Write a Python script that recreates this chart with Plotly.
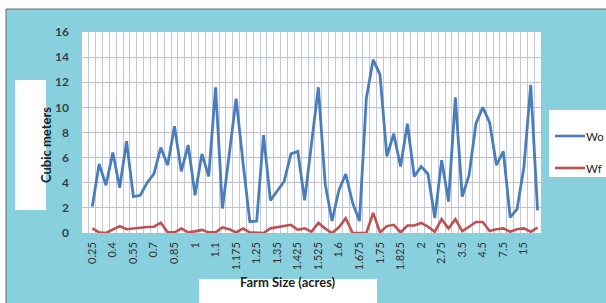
import plotly.graph_objects as go

# ---------------- data ----------------
farm_size_labels = ["0.25", "0.4", "0.55", "0.7", "0.85", "1", "1.1", "1.175",
                    "1.25", "1.35", "1.425", "1.525", "1.6", "1.675", "1.75",
                    "1.825", "2", "2.75", "3.5", "4.5", "7.5", "15"]

wo_values = [2.1, 5.5, 3.8, 6.4, 3.6, 7.3, 2.9, 3.0, 4.0, 4.7,
             6.8, 5.4, 8.5, 4.9, 7.0, 3.0, 6.3, 4.5, 11.6, 1.95,
             6.3, 10.7, 5.6, 0.9, 0.95, 7.8, 2.6, 3.4, 4.1, 6.3,
             6.5, 2.6, 7.0, 11.6, 3.9, 0.95, 3.4, 4.7, 2.4, 0.95,
             10.7, 13.8, 12.6, 6.1, 7.9, 5.3, 8.7, 4.5, 5.3, 4.7,
             1.2, 5.8, 2.5, 10.8, 2.9, 4.6, 8.7, 10.0, 8.8, 5.4,
             6.5, 1.25, 1.9, 5.2, 11.8, 1.8]

wf_values = [0.37, 0.05, 0.0, 0.25, 0.55, 0.3, 0.37, 0.42, 0.48, 0.5,
             0.82, 0.05, 0.05, 0.35, 0.05, 0.13, 0.25, 0.05, 0.05, 0.45,
             0.3, 0.05, 0.35, 0.05, 0.0, 0.0, 0.37, 0.45, 0.55, 0.65,
             0.25, 0.37, 0.1, 0.8, 0.35, 0.0, 0.45, 1.17, 0.0, 0.0,
             0.0, 1.6, 0.05, 0.55, 0.65, 0.05, 0.6, 0.6, 0.8, 0.5,
             0.1, 1.1, 0.35, 1.1, 0.15, 0.5, 0.88, 0.88, 0.15, 0.3,
             0.37, 0.1, 0.3, 0.37, 0.1, 0.42]

series_names = ["Wo", "Wf"]
series_colors = ["#4a7ebb", "#c0504d"]
y_ticks = [0, 2, 4, 6, 8, 10, 12, 14, 16]
label_step = 3

# ---------------- figure ----------------
W, H = 606, 303
ML, MR, MT, MB = 82, 65, 32, 70
PW, PH = W - ML - MR, H - MT - MB


def px_x(px):
    return (px - ML) / PW


def px_y(py):
    return (H - MB - py) / PH


x_idx = list(range(len(wo_values)))
tickvals = x_idx[::label_step]

fig = go.Figure()
for name, vals, col, lw in zip(series_names, [wo_values, wf_values], series_colors, [2.8, 2.6]):
    fig.add_trace(go.Scatter(x=x_idx, y=vals, mode="lines", name=name,
                             showlegend=False, hoverinfo="skip",
                             line=dict(color=col, width=lw)))

teal = "#88d0de"
shapes = [
    # white strips at top and left of the picture
    dict(type="rect", xref="paper", yref="paper", x0=px_x(-5), x1=px_x(W + 5),
         y0=px_y(9), y1=px_y(-5), fillcolor="white", line=dict(width=0), layer="below"),
    dict(type="rect", xref="paper", yref="paper", x0=px_x(-5), x1=px_x(6),
         y0=px_y(H + 5), y1=px_y(-5), fillcolor="white", line=dict(width=0), layer="below"),
    # thin border line
    dict(type="line", xref="paper", yref="paper", x0=px_x(6), x1=px_x(W + 5),
         y0=px_y(9), y1=px_y(9), line=dict(color="#666666", width=1)),
    dict(type="line", xref="paper", yref="paper", x0=px_x(6), x1=px_x(6),
         y0=px_y(9), y1=px_y(H + 5), line=dict(color="#666666", width=1)),
    # white boxes behind axis titles
    dict(type="rect", xref="paper", yref="paper", x0=px_x(15), x1=px_x(46),
         y0=px_y(210), y1=px_y(80), fillcolor="white", line=dict(width=0), layer="below"),
    dict(type="rect", xref="paper", yref="paper", x0=px_x(199), x1=px_x(377),
         y0=px_y(H + 5), y1=px_y(279), fillcolor="white", line=dict(width=0), layer="below"),
    # legend box
    dict(type="rect", xref="paper", yref="paper", x0=px_x(549), x1=px_x(W + 10),
         y0=px_y(177), y1=px_y(110), fillcolor="white", line=dict(width=0), layer="below"),
]

annotations = [
    dict(text="Cubic meters", xref="paper", yref="paper", x=px_x(36), y=px_y(145),
         showarrow=False, textangle=-90,
         font=dict(family="Lato", size=13, color="#222222", weight="bold")),
    dict(text="Farm Size (acres)", xref="paper", yref="paper", x=px_x(288), y=px_y(292),
         showarrow=False,
         font=dict(family="Lato", size=13, color="#222222", weight="bold")),
]

# legend entries (line sample + name)
legend_rows_y = [136, 168]
for name, col, ly in zip(series_names, series_colors, legend_rows_y):
    shapes.append(dict(type="line", xref="paper", yref="paper", x0=px_x(555), x1=px_x(585),
                       y0=px_y(ly), y1=px_y(ly), line=dict(color=col, width=2.6)))
    annotations.append(dict(text=name, xref="paper", yref="paper", x=px_x(585), y=px_y(ly),
                            xanchor="left", yanchor="middle", showarrow=False, borderpad=0,
                            font=dict(family="Lato", size=11.5, color="#222222")))

fig.update_layout(
    width=W, height=H,
    margin=dict(l=ML, r=MR, t=MT, b=MB, pad=0, autoexpand=False),
    paper_bgcolor=teal,
    plot_bgcolor="white",
    font=dict(family="Lato", color="#333333"),
    shapes=shapes,
    annotations=annotations,
    showlegend=False,
    hovermode=False,
    xaxis=dict(range=[-1.5, len(wo_values) - 0.5], tickmode="array",
               tickvals=tickvals, ticktext=farm_size_labels, tickangle=-90,
               showgrid=False, zeroline=False, showline=False, ticks="",
               ticklabelstandoff=6, automargin=False,
               tickfont=dict(family="Lato", size=11, color="#333333"),
               minor=dict(tick0=0.5, dtick=1, showgrid=True, gridcolor="#bfc6e5",
                          gridwidth=1, ticks="")),
    yaxis=dict(range=[0, 16], tickmode="array", tickvals=y_ticks,
               showgrid=True, gridcolor="#c9bfc3", gridwidth=1, automargin=False,
               zeroline=False, showline=False, ticks="", ticklabelstandoff=12,
               tickfont=dict(family="Lato", size=12, color="#3a4045", weight="bold")),
)

# remove the browser's default 8px body margin so the figure fills the window
fig.write_html("out.html", config={"displayModeBar": False},
               post_script="document.body.style.margin='0';document.body.style.overflow='hidden';")
